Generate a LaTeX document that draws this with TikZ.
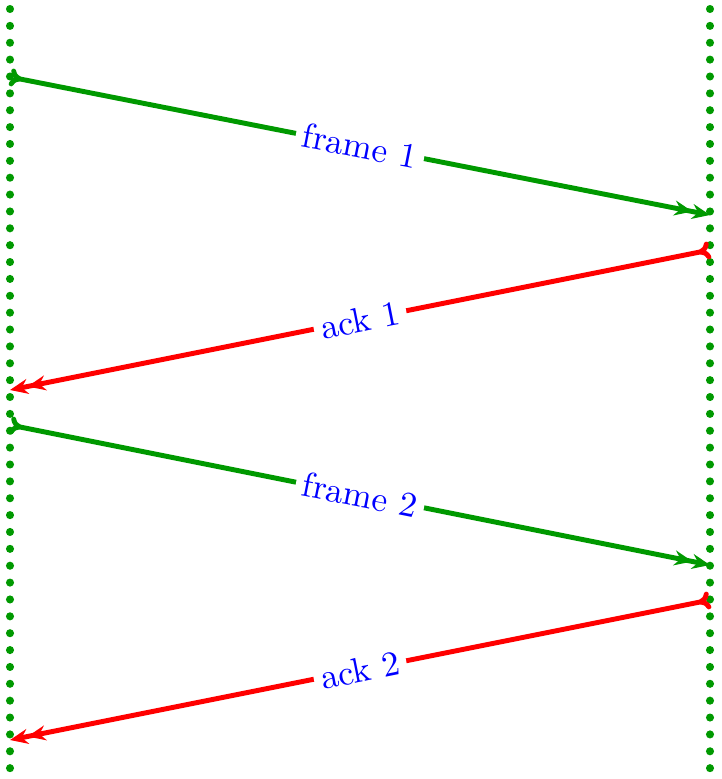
\documentclass[tikz,border=0pt]{standalone}
\usetikzlibrary{arrows.meta}

\begin{document}
\begin{tikzpicture}[
  timeline/.style={green!60!black,line width=2.3pt,line cap=round,dash pattern=on 0pt off 4.8pt},
  msg/.style={line width=1.4pt,{To[reversed,length=1.2mm,width=1.8mm]}-{Stealth[length=1.8mm,width=1.5mm,inset=0.6mm] Stealth[length=1.8mm,width=1.5mm,inset=0.6mm]}},
  lbl/.style={midway,sloped,fill=white,text=blue,inner sep=2pt}]
\useasboundingbox (-0.1,0) rectangle (7.11,-7.79);
\draw[timeline] (0,-0.09) -- (0,-7.70);
\draw[timeline] (7,-0.09) -- (7,-7.70);
\coordinate (s1) at (0,-0.77);
\coordinate (r1) at (7,-2.15);
\coordinate (r2) at (7,-2.50);
\coordinate (s2) at (0,-3.90);
\coordinate (s3) at (0,-4.25);
\coordinate (r3) at (7,-5.65);
\coordinate (r4) at (7,-6.00);
\coordinate (s4) at (0,-7.40);
\draw[msg,green!60!black] (s1) -- (r1) node[lbl] {frame 1};
\draw[msg,red] (r2) -- (s2) node[lbl] {ack 1};
\draw[msg,green!60!black] (s3) -- (r3) node[lbl] {frame 2};
\draw[msg,red] (r4) -- (s4) node[lbl] {ack 2};
\end{tikzpicture}
\end{document}
